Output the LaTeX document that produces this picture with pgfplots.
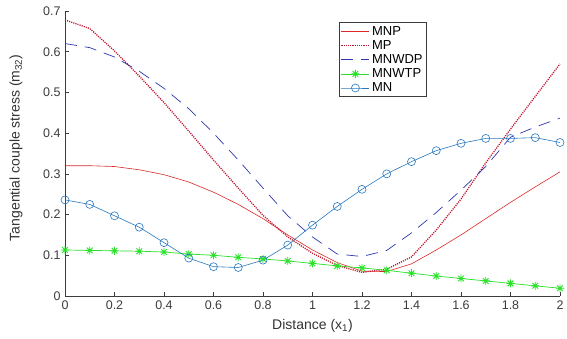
\documentclass[border=0pt]{standalone}
\usepackage{pgfplots}
\pgfplotsset{compat=1.18}
\usepackage{pgfplotstable}
\usepackage{fontspec}
\setmainfont{Liberation Sans}
\definecolor{cMNP}{RGB}{220,40,40}
\definecolor{cMP}{RGB}{190,20,45}
\definecolor{cMNWDP}{RGB}{45,55,175}
\definecolor{cMNWTP}{RGB}{40,225,40}
\definecolor{cMN}{RGB}{40,120,190}
\definecolor{axgray}{RGB}{60,60,60}

\pgfdeclareplotmark{mstar}{%
  \pgfpathmoveto{\pgfqpoint{-\pgfplotmarksize}{0pt}}\pgfpathlineto{\pgfqpoint{\pgfplotmarksize}{0pt}}%
  \pgfpathmoveto{\pgfqpoint{0pt}{-\pgfplotmarksize}}\pgfpathlineto{\pgfqpoint{0pt}{\pgfplotmarksize}}%
  \pgfpathmoveto{\pgfqpoint{-0.707\pgfplotmarksize}{-0.707\pgfplotmarksize}}\pgfpathlineto{\pgfqpoint{0.707\pgfplotmarksize}{0.707\pgfplotmarksize}}%
  \pgfpathmoveto{\pgfqpoint{-0.707\pgfplotmarksize}{0.707\pgfplotmarksize}}\pgfpathlineto{\pgfqpoint{0.707\pgfplotmarksize}{-0.707\pgfplotmarksize}}%
  \pgfusepathqstroke}

\pgfplotstableread{
x MNP MP MNWDP MNWTP MN
0.0 0.320 0.678 0.620 0.113 0.236
0.1 0.320 0.657 0.610 0.112 0.225
0.2 0.318 0.602 0.587 0.111 0.197
0.3 0.310 0.540 0.552 0.110 0.169
0.4 0.298 0.475 0.510 0.108 0.131
0.5 0.280 0.405 0.460 0.103 0.093
0.6 0.255 0.334 0.400 0.100 0.072
0.7 0.225 0.265 0.334 0.095 0.070
0.8 0.190 0.198 0.265 0.091 0.088
0.9 0.150 0.145 0.197 0.086 0.125
1.0 0.113 0.105 0.145 0.080 0.174
1.1 0.082 0.075 0.103 0.074 0.220
1.2 0.061 0.058 0.097 0.069 0.262
1.3 0.060 0.066 0.112 0.063 0.300
1.4 0.079 0.096 0.155 0.056 0.330
1.5 0.113 0.162 0.205 0.049 0.357
1.6 0.150 0.238 0.260 0.043 0.375
1.7 0.190 0.327 0.318 0.037 0.387
1.8 0.230 0.410 0.390 0.031 0.387
1.9 0.268 0.490 0.415 0.025 0.389
2.0 0.305 0.570 0.437 0.019 0.377
}\data

\begin{document}
\begin{tikzpicture}
\path[use as bounding box] (-65pt,-43pt) rectangle (502pt,296pt);
\begin{axis}[
  at={(0,0)}, anchor=south west,
  scale only axis,
  width=495pt, height=285pt,
  xmin=0, xmax=2, ymin=0, ymax=0.7,
  xtick={0,0.2,...,2.0},
  ytick={0,0.1,...,0.7},
  axis lines=left,
  axis line style={-, axgray, line width=0.6pt},
  tick style={axgray, line width=0.6pt},
  major tick length=4pt,
  tick align=inside,
  /pgf/number format/assume math mode=true,
  /pgf/number format/fixed,
  ticklabel style={font=\fontsize{12.5}{14}\selectfont, text=axgray},
  xticklabel style={yshift=-1pt},
  yticklabel style={xshift=-1pt},
  xlabel={Distance (x\textsubscript{1})},
  ylabel={Tangential couple stress (m\textsubscript{32})},
  label style={font=\fontsize{14}{16}\selectfont, text=black!80},
  xlabel style={at={(axis description cs:0.5,-0.105)}, anchor=center},
  ylabel style={at={(axis description cs:-0.099,0.52)}, anchor=center},
  legend style={at={(axis description cs:0.5535,0.96)}, anchor=north west,
    font=\fontsize{13}{14.5}\selectfont, draw=axgray, line width=0.6pt,
    inner sep=1.5pt, row sep=-0.3pt,
    cells={anchor=west}},
  legend image code/.code={\draw[mark repeat=2,mark phase=2,#1] plot coordinates {(0pt,0pt) (14pt,0pt) (28pt,0pt)};},
  legend cell align=left,
  clip=false,
]
\addplot[cMNP, line width=0.6pt] table[x=x,y=MNP]{\data};
\addlegendentry{MNP}
\addplot[cMP, line width=1.3pt, dash pattern=on 1.1pt off 1.1pt] table[x=x,y=MP]{\data};
\addlegendentry{MP}
\addplot[cMNWDP, line width=0.7pt, dash pattern=on 12pt off 8pt] table[x=x,y=MNWDP]{\data};
\addlegendentry{MNWDP}
\addplot[cMNWTP, line width=0.7pt, mark=mstar, mark size=4pt, mark options={solid, line width=0.9pt}] table[x=x,y=MNWTP]{\data};
\addlegendentry{MNWTP}
\addplot[cMN, line width=0.6pt, mark=o, mark size=4pt, mark options={solid, fill=white, line width=0.6pt}] table[x=x,y=MN]{\data};
\addlegendentry{MN}
\end{axis}
\end{tikzpicture}
\end{document}
